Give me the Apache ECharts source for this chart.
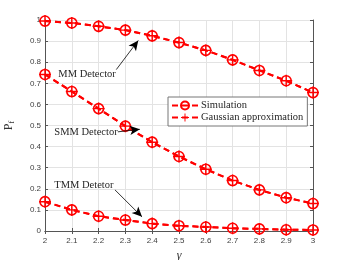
<!DOCTYPE html>
<html>
<head>
<meta charset="utf-8">
<script src="https://cdn.jsdelivr.net/npm/echarts@6/dist/echarts.min.js"></script>
<style>html,body{margin:0;padding:0;background:#fff}#c{width:346px;height:260px}</style>
</head>
<body>
<div id="c"></div>
<script>
var gammaValues = [2.0, 2.1, 2.2, 2.3, 2.4, 2.5, 2.6, 2.7, 2.8, 2.9, 3.0];
var mmValues  = [0.995, 0.986, 0.970, 0.952, 0.925, 0.893, 0.856, 0.811, 0.761, 0.712, 0.656];
var smmValues = [0.742, 0.661, 0.580, 0.497, 0.421, 0.353, 0.293, 0.239, 0.195, 0.158, 0.130];
var tmmValues = [0.139, 0.100, 0.070, 0.052, 0.035, 0.025, 0.019, 0.013, 0.010, 0.006, 0.005];
var legendNames = ['Simulation', 'Gaussian approximation'];
var annotations = [
  {text: 'MM Detector',  at: [2.157, 0.741], from: [2.266, 0.765], to: [2.348, 0.903]},
  {text: 'SMM Detector', at: [2.153, 0.470], from: [2.272, 0.470], to: [2.354, 0.482]},
  {text: 'TMM Detetor',  at: [2.145, 0.219], from: [2.261, 0.195], to: [2.362, 0.067]}
];

var RED = '#ff0000';
var SERIF = '"Liberation Serif","Times New Roman",serif';
var SANS = '"Liberation Sans",Arial,sans-serif';
var plusPath = 'path://M-1,-0.12H1V0.12H-1Z M-0.12,-1H0.12V1H-0.12Z';

function pairs(vals){ return gammaValues.map(function(g,i){ return [g, vals[i]]; }); }

var series = [];
[mmValues, smmValues, tmmValues].forEach(function(vals){
  series.push({
    name: legendNames[0], type: 'line', data: pairs(vals),
    symbol: 'circle', symbolSize: 10, showSymbol: true,
    itemStyle: {color: 'transparent', borderColor: RED, borderWidth: 1.6},
    lineStyle: {color: RED, width: 2, type: [6, 4]},
    emphasis: {disabled: true}, z: 3
  });
  series.push({
    name: legendNames[1], type: 'line', data: pairs(vals),
    symbol: plusPath, symbolSize: 12,
    itemStyle: {color: RED},
    lineStyle: {color: RED, width: 2, type: [6, 4]},
    emphasis: {disabled: true}, z: 4
  });
});

series.push({
  name: 'annot', type: 'line', data: [], silent: true,
  markLine: {
    silent: true, symbol: ['none', 'arrow'], symbolSize: [7, 10],
    label: {show: false},
    lineStyle: {color: '#000', width: 0.8, type: 'solid'},
    data: annotations.map(function(a){ return [{coord: a.from}, {coord: a.to}]; })
  },
  markPoint: {
    silent: true, symbol: 'circle', symbolSize: 0,
    label: {show: true, position: 'inside', color: '#262626', fontFamily: SERIF, fontSize: 10.5,
      formatter: function(p){ return p.name; }},
    data: annotations.map(function(a){ return {name: a.text, coord: a.at}; })
  }
});

var axisColor = '#555';
var chart = echarts.init(document.getElementById('c'), null, {renderer: 'canvas'});
chart.setOption({
  animation: false,
  backgroundColor: '#fff',
  grid: {left: 45, right: 33, top: 20, bottom: 29, show: false, containLabel: false, outerBoundsMode: 'none'},
  legend: {
    data: legendNames, orient: 'vertical', left: 168, top: 97,
    itemWidth: 26, itemHeight: 10, itemGap: 1,
    padding: [3, 4, 3, 3],
    backgroundColor: '#fff', borderColor: '#777', borderWidth: 1, borderRadius: 0,
    textStyle: {fontFamily: SERIF, fontSize: 10.5, color: '#262626', padding: [0,0,0,-2]},
    selectedMode: false
  },
  xAxis: [{
    type: 'value', min: 2, max: 3, interval: 0.1,
    name: 'γ', nameLocation: 'middle', nameGap: 19,
    nameTextStyle: {fontFamily: SERIF, fontStyle: 'italic', fontSize: 12, color: '#333'},
    axisLine: {show: true, lineStyle: {color: axisColor, width: 1}},
    axisTick: {show: true, inside: true, length: 3, lineStyle: {color: axisColor}},
    axisLabel: {fontFamily: SANS, fontSize: 8, color: '#404040', margin: 6,
      formatter: function(v){ return String(Number(v.toFixed(1))); }},
    splitLine: {show: true, lineStyle: {color: '#e3e3e3', width: 1}}
  }, {
    type: 'value', min: 2, max: 3, interval: 0.1, position: 'top',
    axisLine: {show: true, lineStyle: {color: axisColor, width: 1}},
    axisTick: {show: true, inside: true, length: 3, lineStyle: {color: axisColor}},
    axisLabel: {show: false}, splitLine: {show: false}
  }],
  yAxis: [{
    type: 'value', min: 0, max: 1, interval: 0.1,
    name: '{p|P}{s|f}', nameLocation: 'middle', nameGap: 29, nameRotate: 90,
    nameTextStyle: {rich: {
      p: {fontFamily: SERIF, fontSize: 12, color: '#333'},
      s: {fontFamily: SERIF, fontSize: 8, color: '#333', verticalAlign: 'bottom', padding: [6,0,0,0]}
    }},
    axisLine: {show: true, lineStyle: {color: axisColor, width: 1}},
    axisTick: {show: true, inside: true, length: 3, lineStyle: {color: axisColor}},
    axisLabel: {fontFamily: SANS, fontSize: 8, color: '#404040', margin: 4,
      formatter: function(v){ return String(Number(v.toFixed(1))); }},
    splitLine: {show: true, lineStyle: {color: '#e3e3e3', width: 1}}
  }, {
    type: 'value', min: 0, max: 1, interval: 0.1, position: 'right',
    axisLine: {show: true, lineStyle: {color: axisColor, width: 1}},
    axisTick: {show: true, inside: true, length: 3, lineStyle: {color: axisColor}},
    axisLabel: {show: false}, splitLine: {show: false}
  }],
  series: series
});
</script>
</body>
</html>
